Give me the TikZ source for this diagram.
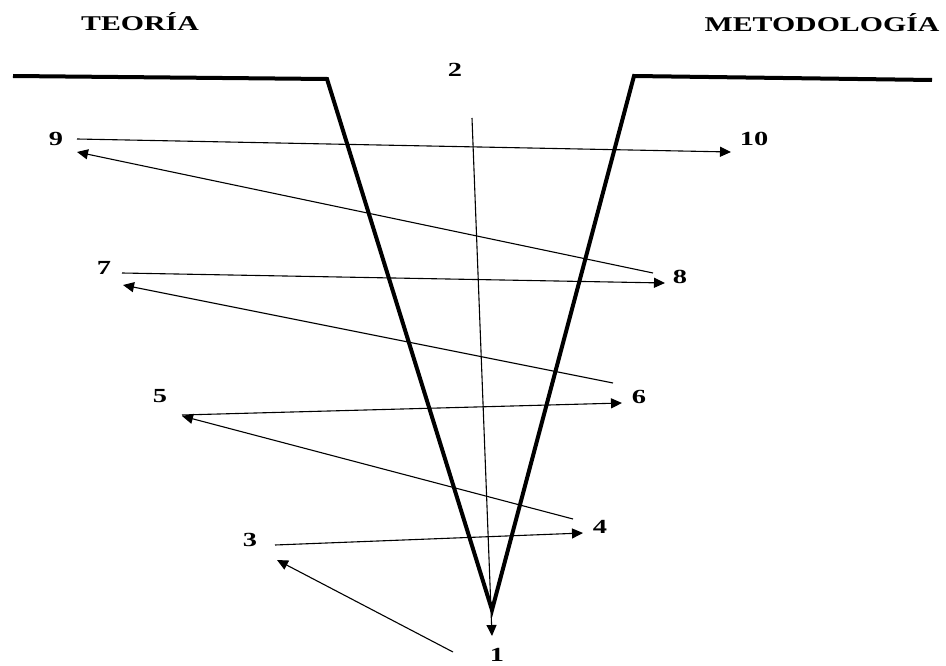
\documentclass[tikz,border=0pt]{standalone}
\usepackage{graphicx}
\usepackage{fontspec}
\setmainfont{Liberation Serif}
\usetikzlibrary{arrows.meta}
\newcommand{\stretchtxt}[1]{\scalebox{1.42}[1]{#1}}
\tikzset{
  numlbl/.style={font=\fontsize{20}{20}\selectfont\bfseries, inner sep=0pt},
  titlelbl/.style={font=\fontsize{21}{21}\selectfont\bfseries, inner sep=0pt, anchor=base},
  vline/.style={line width=4pt, line join=miter, line cap=butt},
  conn/.style={line width=1.1pt, -{Triangle[length=11pt,width=10pt]}}
}
\begin{document}
\begin{tikzpicture}[x=1pt,y=-1pt]
\useasboundingbox (0,0) rectangle (946,666);
% titles
\node[titlelbl] (teoria) at (140,31) {\stretchtxt{TEORÍA}};
\node[titlelbl] (metod) at (822,32) {\stretchtxt{METODOLOGÍA}};
% number labels
\node[numlbl] (n1) at (497,655) {\stretchtxt{1}};
\node[numlbl] (n2) at (455,70) {\stretchtxt{2}};
\node[numlbl] (n3) at (250,540) {\stretchtxt{3}};
\node[numlbl] (n4) at (600,527) {\stretchtxt{4}};
\node[numlbl] (n5) at (160,396) {\stretchtxt{5}};
\node[numlbl] (n6) at (639,397) {\stretchtxt{6}};
\node[numlbl] (n7) at (104,268) {\stretchtxt{7}};
\node[numlbl] (n8) at (680,277) {\stretchtxt{8}};
\node[numlbl] (n9) at (56,139) {\stretchtxt{9}};
\node[numlbl] (n10) at (754,139) {\stretchtxt{10}};
% V shape
\coordinate (vl) at (13,76);
\coordinate (vlc) at (327,79);
\coordinate (vx) at (492,610);
\coordinate (vrc) at (634,76);
\coordinate (vr) at (932,80);
\draw[vline] (vl) -- (vlc) -- (vx) -- (vrc) -- (vr);
% connector end points
\coordinate (a2s) at (472,118);
\coordinate (a1t) at (492,636);
\coordinate (a1s) at (453,652);
\coordinate (a3t) at (277,560);
\coordinate (a3s) at (275,545);
\coordinate (a4t) at (583,533);
\coordinate (a4s) at (573,519);
\coordinate (a5t) at (182,416);
\coordinate (a5s) at (182,415);
\coordinate (a6t) at (622,403);
\coordinate (a6s) at (613,383);
\coordinate (a7t) at (123,285);
\coordinate (a7s) at (122,273);
\coordinate (a8t) at (665,283);
\coordinate (a8s) at (653,273);
\coordinate (a9t) at (77,152);
\coordinate (a9s) at (77,139);
\coordinate (a10t) at (731,152);
% connectors
\draw[conn] (a2s) -- (a1t);
\draw[conn] (a1s) -- (a3t);
\draw[conn] (a3s) -- (a4t);
\draw[conn] (a4s) -- (a5t);
\draw[conn] (a5s) -- (a6t);
\draw[conn] (a6s) -- (a7t);
\draw[conn] (a7s) -- (a8t);
\draw[conn] (a8s) -- (a9t);
\draw[conn] (a9s) -- (a10t);
\end{tikzpicture}
\end{document}
